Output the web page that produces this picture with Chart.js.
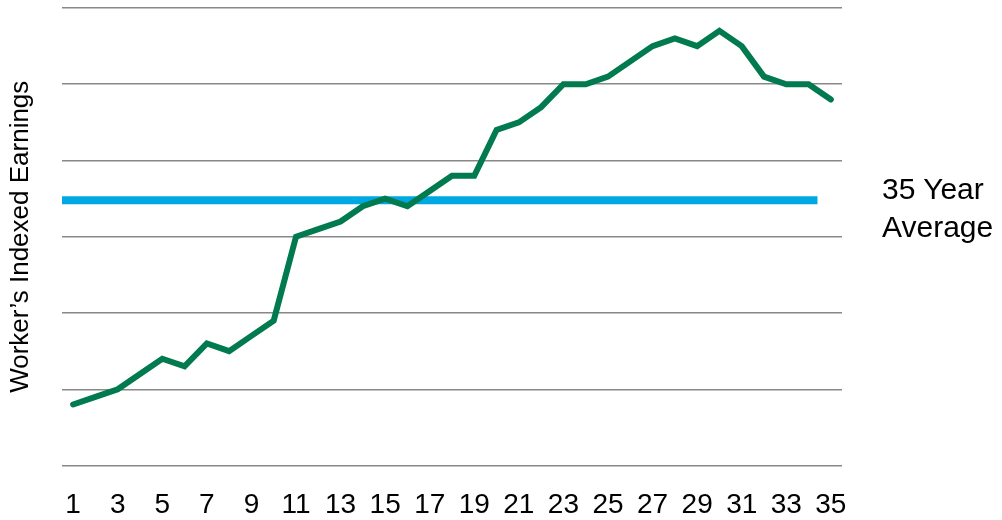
<!DOCTYPE html>
<html>
<head>
<meta charset="utf-8">
<script src="https://cdn.jsdelivr.net/npm/chart.js@4/dist/chart.umd.min.js"></script>
<style>
  html, body { margin: 0; padding: 0; background: #ffffff; }
  #wrap { position: relative; width: 1002px; height: 520px; }
  #avgLabel {
    position: absolute; left: 882px; top: 170px;
    font-family: "Liberation Sans", Arial, sans-serif;
    font-size: 30px; line-height: 38px; color: #000;
  }
</style>
</head>
<body>
<div id="wrap">
  <canvas id="c"></canvas>
  <div id="avgLabel">35 Year<br>Average</div>
</div>
<script>
// Categories (year number 1..35)
const years = ["1","2","3","4","5","6","7","8","9","10","11","12","13","14","15","16","17","18","19","20","21","22","23","24","25","26","27","28","29","30","31","32","33","34","35"];
// Tick labels that are shown
const tickLabels = ["1","3","5","7","9","11","13","15","17","19","21","23","25","27","29","31","33","35"];
// Worker's indexed earnings (relative units, gridline = 1)
const earnings = [0.8,0.9,1.0,1.2,1.4,1.3,1.6,1.5,1.7,1.9,3.0,3.1,3.2,3.4,3.5,3.4,3.6,3.8,3.8,4.4,4.5,4.7,5.0,5.0,5.1,5.3,5.5,5.6,5.5,5.7,5.5,5.1,5.0,5.0,4.8];
// 35-year average level and its horizontal span (in category-width units from the left edge)
const averageLevel = 3.48;
const averageSpan = [0, 33.9];

const FONT = "'Liberation Sans', Arial, sans-serif";

new Chart(document.getElementById('c'), {
  data: {
    labels: years,
    datasets: [
      {
        type: 'line',
        label: 'Earnings',
        data: earnings,
        borderColor: '#007A4E',
        borderWidth: 6,
        pointRadius: 0,
        tension: 0,
        borderCapStyle: 'round',
        borderJoinStyle: 'miter',
        fill: false,
        order: 1
      },
      {
        type: 'line',
        label: '35 Year Average',
        xAxisID: 'xAvg',
        data: averageSpan.map(x => ({ x: x, y: averageLevel })),
        borderColor: '#00A8E1',
        borderWidth: 8,
        pointRadius: 0,
        borderCapStyle: 'butt',
        fill: false,
        order: 2
      }
    ]
  },
  options: {
    responsive: true,
    maintainAspectRatio: false,
    animation: false,
    layout: { padding: { left: 0, right: 160, top: 8, bottom: 0 } },
    plugins: { legend: { display: false }, tooltip: { enabled: false } },
    scales: {
      x: {
        type: 'category',
        offset: true,
        grid: { display: false, drawTicks: false },
        border: { display: false },
        ticks: {
          autoSkip: false,
          maxRotation: 0,
          padding: 23,
          color: '#000',
          font: { family: FONT, size: 28 },
          callback: function (v) {
            const l = this.getLabelForValue(v);
            return tickLabels.includes(l) ? l : '';
          }
        },
        afterFit: s => { s.height = 54.5; }
      },
      xAvg: {
        type: 'linear',
        display: false,
        min: 0,
        max: 35
      },
      y: {
        min: 0,
        max: 6,
        ticks: { display: false, stepSize: 1 },
        border: { display: false },
        grid: { color: '#888888', lineWidth: 1.5, drawTicks: false },
        title: {
          display: true,
          text: 'Worker\u2019s Indexed Earnings',
          color: '#000',
          font: { family: FONT, size: 26 },
          padding: { top: 5, bottom: 0 }
        },
        afterFit: s => { s.width = 62; }
      }
    }
  }
});
</script>
</body>
</html>
